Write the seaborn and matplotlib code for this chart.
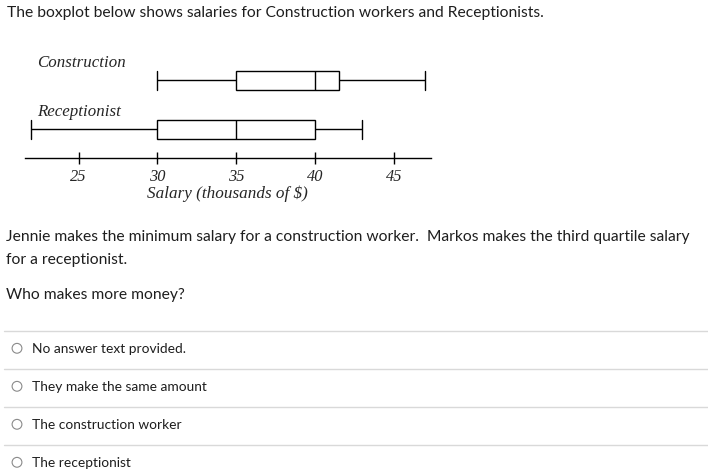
import numpy as np
import pandas as pd
import seaborn as sns
import matplotlib.pyplot as plt
from matplotlib.patches import Circle

# five-number summaries (min, Q1, median, Q3, max)
jobs = ["Construction", "Receptionist"]
construction = [30, 35, 40, 41.5, 47]
receptionist = [22, 30, 35, 40, 43]
ticks = [25, 30, 35, 40, 45]

title = "The boxplot below shows salaries for Construction workers and Receptionists."
question = ["Jennie makes the minimum salary for a construction worker.  Markos makes the third quartile salary",
            "for a receptionist."]
ask = "Who makes more money?"
options = ["No answer text provided.", "They make the same amount",
           "The construction worker", "The receptionist"]

df = pd.DataFrame({
    "job": [jobs[0]] * len(construction) + [jobs[1]] * len(receptionist),
    "salary": construction + receptionist,
})

sns.set_style("white")
W, H = 708, 474
fig = plt.figure(figsize=(W / 100, H / 100), dpi=100)
fig.patch.set_facecolor("white")

# page layer in pixel units for the quiz text
bg = fig.add_axes([0, 0, 1, 1], zorder=0)
bg.set_xlim(0, W)
bg.set_ylim(H, 0)
bg.axis("off")

txt = dict(family="Lato", fontsize=11.25, color="#1e1e1e", va="baseline")
bg.text(7, 17.3, title, **txt)
bg.text(6, 240.7, question[0], **txt)
bg.text(6, 264, question[1], **txt)
bg.text(6, 299.3, ask, **txt)

opt_txt = dict(txt, fontsize=9.9)
for i, opt in enumerate(options):
    y = 348.3 + i * 38
    bg.plot([4, W], [y - 17.6, y - 17.6], color="#d9d9d9", lw=1.0)
    bg.add_patch(Circle((17, y), 4.9, fill=False, edgecolor="#8a8a8a", lw=0.8))
    bg.text(31.5, y + 4.8, opt, **opt_txt)

# the boxplot itself
ax = fig.add_axes([25 / W, (H - 158.3) / H, 405.7 / W, 107.3 / H], zorder=1)
ax.patch.set_alpha(0)
sns.boxplot(data=df, x="salary", y="job", whis=(0, 100), width=0.39,
            color="white", linecolor="black", linewidth=1.0,
            capwidths=0.39, ax=ax)
ax.set_xlim(21.6, 47.33)
ax.set_ylim(1.6, -0.6)
for s in ["top", "left", "right"]:
    ax.spines[s].set_visible(False)
ax.spines["bottom"].set_color("black")
ax.spines["bottom"].set_linewidth(1.0)
ax.set_yticks([])
ax.set_ylabel("")
ax.set_xticks(ticks)
ax.tick_params(axis="x", bottom=True, direction="inout", length=9, width=1.0,
               color="black", pad=3)
for lab in ax.get_xticklabels():
    lab.set_family("Liberation Serif")
    lab.set_style("italic")
    lab.set_fontsize(11.8)
ax.set_xlabel("Salary (thousands of $)", family="Liberation Serif", style="italic",
              fontsize=12.3, labelpad=0.5)

for k, job in enumerate(jobs):
    ax.text(22.35, k - 0.27, job, family="Liberation Serif",
            style="italic", fontsize=12.2, va="baseline", ha="left")

fig.savefig("out.png", dpi=100)
